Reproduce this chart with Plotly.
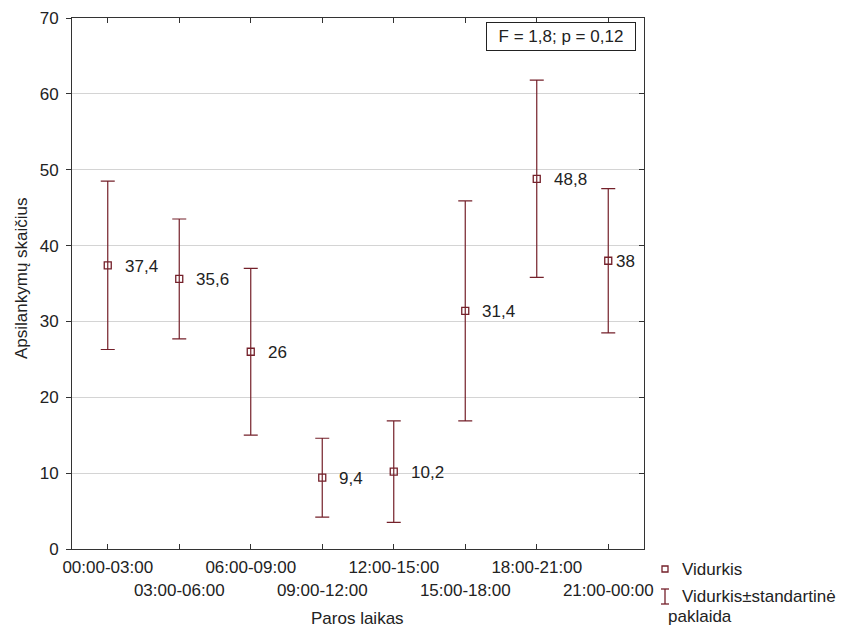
import plotly.graph_objects as go

# Visits per time-of-day interval: mean and standard error
periods = ["00:00-03:00", "03:00-06:00", "06:00-09:00", "09:00-12:00",
           "12:00-15:00", "15:00-18:00", "18:00-21:00", "21:00-00:00"]
means = [37.4, 35.6, 26.0, 9.4, 10.2, 31.4, 48.8, 38.0]
std_err = [11.1, 7.9, 11.0, 5.2, 6.7, 14.5, 13.0, 9.5]
stat_text = "F = 1,8; p = 0,12"
x_title = "Paros laikas"
y_title = "Apsilankymų skaičius"

W, H = 846, 629
L, R, T, B = 72, 644, 18, 549   # plot frame in pixels
RED = "#74202a"
FONT = "Liberation Sans, Arial, sans-serif"
FS = 17
TXT = "#222222"
font = dict(family=FONT, size=FS, color=TXT)


def px(x):
    return (x - L) / (R - L)


def py(y):
    return (B - y) / (B - T)


def fmt(v):
    s = f"{v:.1f}".rstrip("0").rstrip(".")
    return s.replace(".", ",")


xs = list(range(len(periods)))
ticktext = [p if i % 2 == 0 else "<br>" + p for i, p in enumerate(periods)]

fig = go.Figure()
fig.add_trace(go.Scatter(
    x=xs, y=means, mode="markers",
    marker=dict(symbol="square-open", size=7, color=RED, line=dict(width=1.3, color=RED)),
    error_y=dict(type="data", array=std_err, visible=True, color=RED, thickness=1.2, width=7),
    showlegend=False, hoverinfo="skip",
))
# invisible trace on a mirrored y axis so the right frame carries inward ticks
fig.add_trace(go.Scatter(x=[0], y=[0], yaxis="y2", mode="markers",
                         marker=dict(opacity=0), showlegend=False, hoverinfo="skip"))

annotations = []
for i, (x, m) in enumerate(zip(xs, means)):
    shift = 6 if i == len(xs) - 1 else 15
    annotations.append(dict(x=x, y=m, xref="x", yref="y", text=fmt(m), showarrow=False,
                            xanchor="left", yanchor="middle", xshift=shift, yshift=-1,
                            font=font))

annotations.append(dict(x=px(636), y=py(36), xref="paper", yref="paper", text=stat_text,
                        showarrow=False, xanchor="right", yanchor="middle", font=font,
                        width=140, align="center",
                        bordercolor="#222222", borderwidth=1, borderpad=4, bgcolor="white"))

# axis titles
annotations += [
    dict(x=px(357), y=py(618), xref="paper", yref="paper", text=x_title, showarrow=False,
         xanchor="center", yanchor="middle", font=font),
    dict(x=px(21), y=py(278), xref="paper", yref="paper", text=y_title, showarrow=False,
         xanchor="center", yanchor="middle", textangle=-90, font=font),
]

# legend entries
annotations += [
    dict(x=px(680), y=py(569), xref="paper", yref="paper", text="Vidurkis",
         showarrow=False, xanchor="left", yanchor="middle", font=font),
    dict(x=px(680), y=py(596), xref="paper", yref="paper", text="Vidurkis±standartinė",
         showarrow=False, xanchor="left", yanchor="middle", font=font),
    dict(x=px(666), y=py(616), xref="paper", yref="paper", text="paklaida",
         showarrow=False, xanchor="left", yanchor="middle", font=font),
]

shapes = [
    dict(type="rect", xref="paper", yref="paper", x0=px(662), x1=px(668), y0=py(566), y1=py(572),
         line=dict(color=RED, width=1.3)),
    dict(type="line", xref="paper", yref="paper", x0=px(665), x1=px(665), y0=py(589), y1=py(604),
         line=dict(color=RED, width=1.3)),
    dict(type="line", xref="paper", yref="paper", x0=px(661), x1=px(669), y0=py(589), y1=py(589),
         line=dict(color=RED, width=1.3)),
    dict(type="line", xref="paper", yref="paper", x0=px(661), x1=px(669), y0=py(604), y1=py(604),
         line=dict(color=RED, width=1.3)),
]

fig.update_layout(
    width=W, height=H,
    margin=dict(l=L, r=W - R, t=T, b=H - B, autoexpand=False),
    paper_bgcolor="white", plot_bgcolor="white",
    font=font,
    xaxis=dict(
        range=[-0.5, len(periods) - 0.5], tickmode="array", tickvals=xs, ticktext=ticktext,
        tickangle=0, automargin=False, ticklabelstandoff=3,
        ticks="inside", ticklen=5, tickcolor="#333333", showgrid=False, zeroline=False,
        showline=True, linecolor="#333333", linewidth=1, mirror="ticks",
        tickfont=font,
    ),
    yaxis=dict(
        range=[0, 70], dtick=10, ticks="outside", ticklen=5, tickcolor="#333333", automargin=False,
        showgrid=True, gridcolor="#d4d4d4", gridwidth=1, zeroline=False,
        showline=True, linecolor="#333333", linewidth=1, mirror=True,
        tickfont=font, ticklabelstandoff=4,
    ),
    yaxis2=dict(
        range=[0, 70], dtick=10, overlaying="y", side="right", ticks="inside", ticklen=5,
        tickcolor="#333333", showticklabels=False, showgrid=False, zeroline=False, showline=False,
    ),
    annotations=annotations,
    shapes=shapes,
)

fig.write_html("out.html")
